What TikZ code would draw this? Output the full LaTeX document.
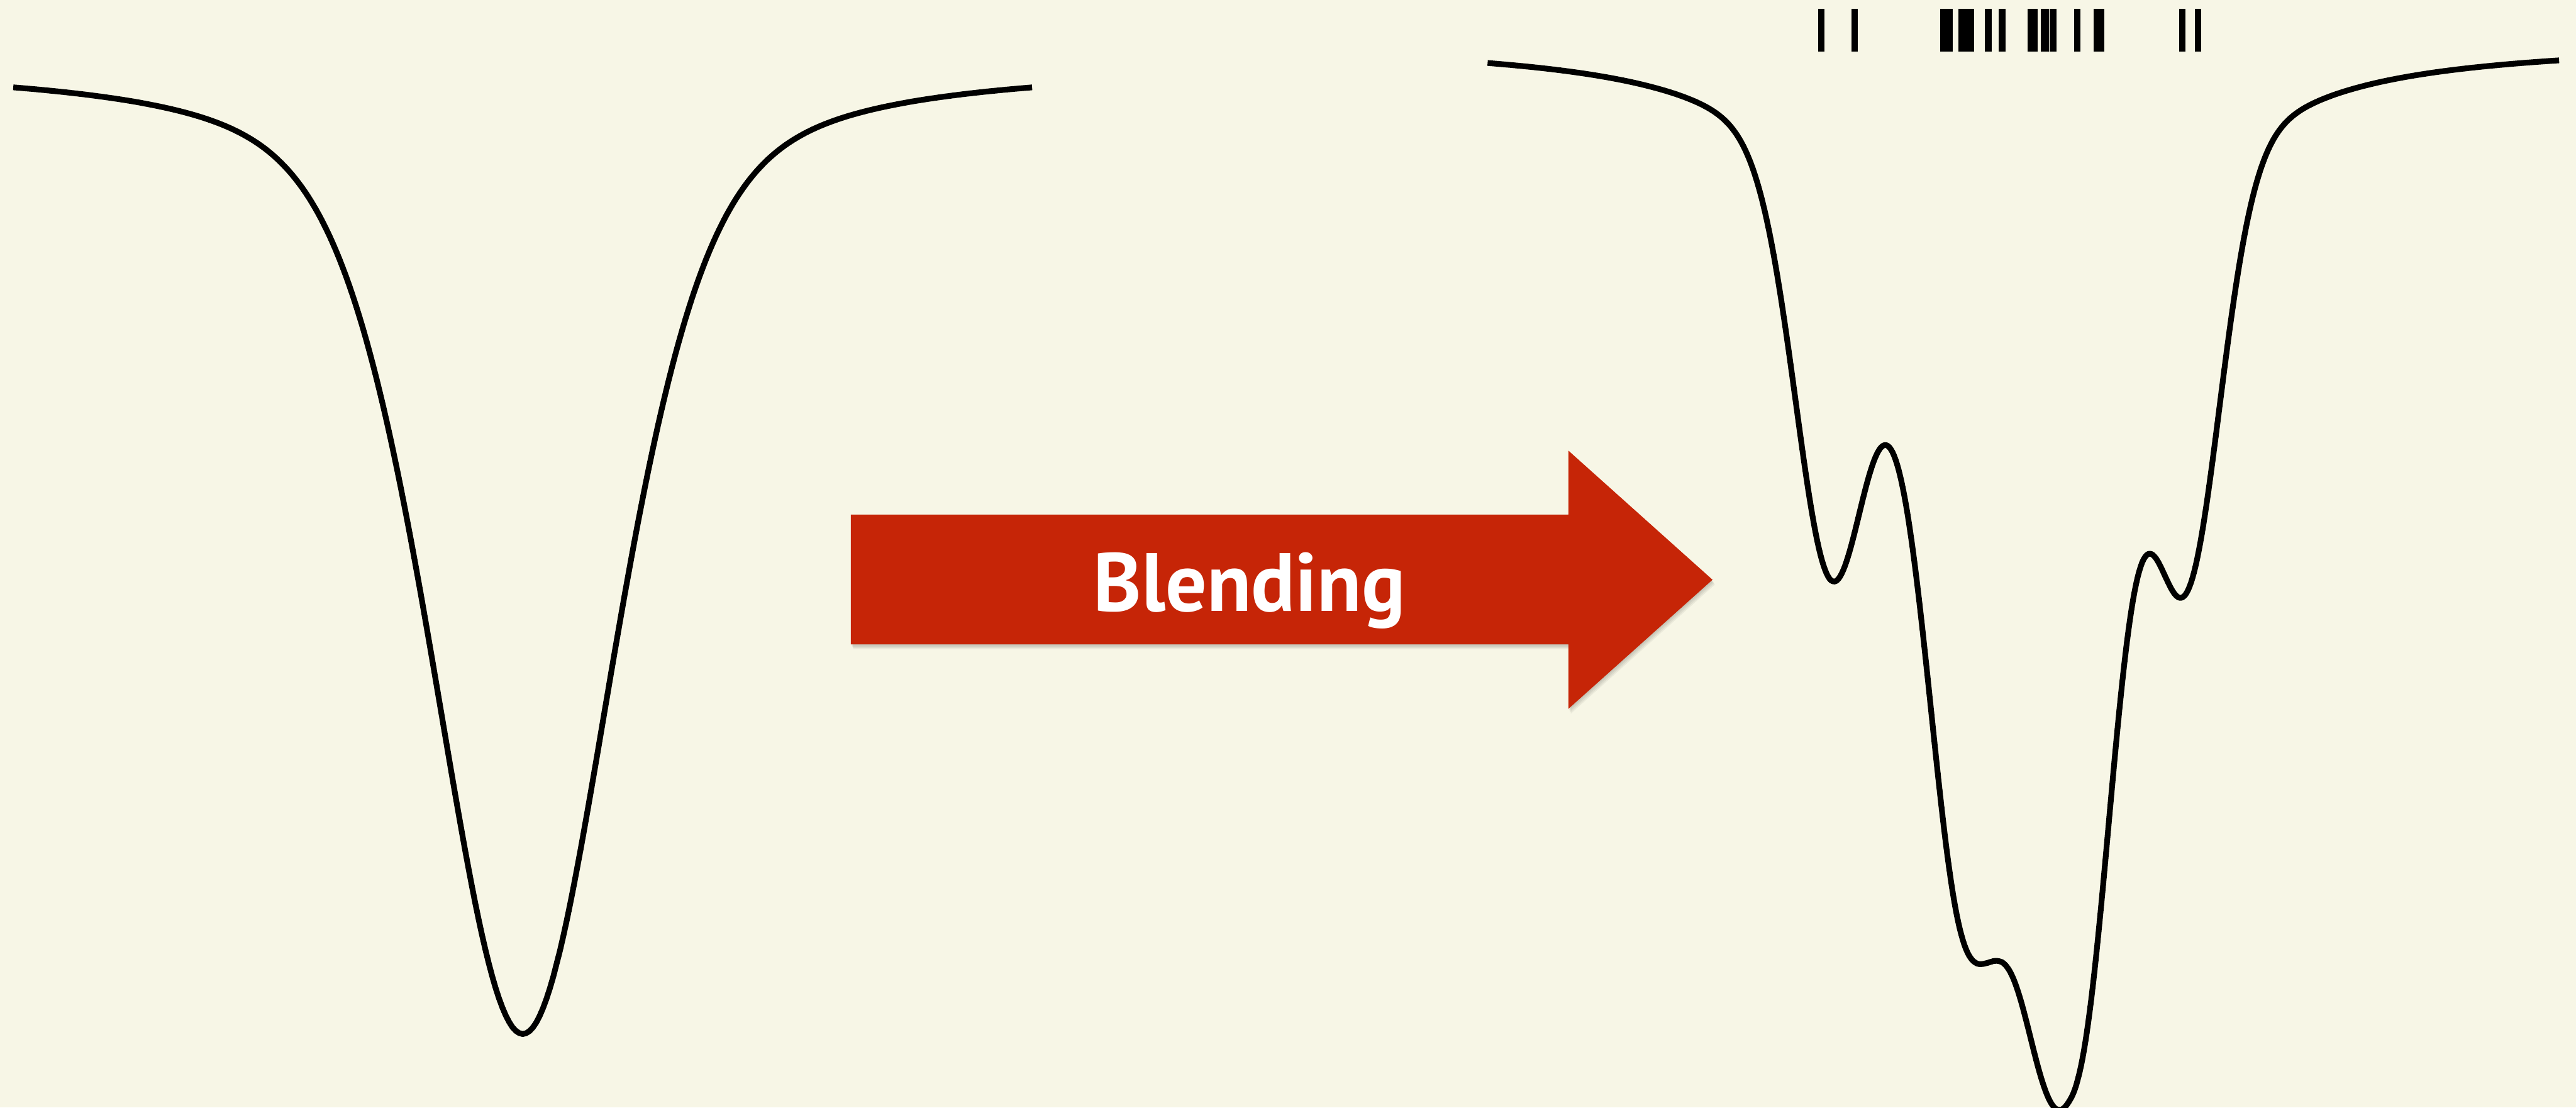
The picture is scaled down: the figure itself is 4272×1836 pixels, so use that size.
\documentclass[tikz,border=0pt]{standalone}
\usepackage{fontspec}
\usepackage{graphicx}
\newfontfamily\labelfont{PT Sans}
\definecolor{paper}{HTML}{F7F6E6}
\definecolor{arrowred}{HTML}{C62507}

\begin{document}
\begin{tikzpicture}[x=0.01cm, y=-0.01cm,
  profile/.style={line width=0.095cm, black, line join=round},
  linemark/.style={fill=black},
  arrowbody/.pic={\path[pic actions] (1411,853) -- (2601,853) -- (2601,747) -- (2840,961)
                    -- (2601,1175) -- (2601,1068) -- (1411,1068) -- cycle;},
  % absorption components; argument in units of 100
  declare function={
    voigtish(\u)=0.55*exp(-min(30,0.5*\u*\u))+0.45/(1+0.601*\u*\u);
    wingdepth(\q)=320/(1+(\q-33.30)*(\q-33.30)/6.25);
    dipA(\q)=690*(0.8*exp(-min(30,(\q-30.35)*(\q-30.35)/0.7))+0.2/(1+(\q-30.35)*(\q-30.35)/0.81));
    coreL(\q)=1045*voigtish((\q-32.50)/0.64);
    shoulder(\q)=42*exp(-min(30,(\q-33.02)*(\q-33.02)/0.16));
    coreR(\q)=1350*exp(-min(30,((abs(\q-34.32)+0.0001)/(\q<34.32 ? 1.18 : 0.995))^2.25));
    dipB(\q)=740*(0.8*exp(-min(30,(\q-36.25)*(\q-36.25)/0.64))+0.2/(1+(\q-36.25)*(\q-36.25)));
    blend(\q)=70+wingdepth(\q)+dipA(\q)+coreL(\q)+shoulder(\q)+coreR(\q)+dipB(\q);
  },
]
% page
\fill[paper] (0,0) rectangle (4272,1836);
\useasboundingbox (0,0) rectangle (4272,1836);

% single line profile: Gaussian core plus Lorentzian wings
\draw[profile] plot[domain=-8.45:8.45, samples=301, variable=\u]
  ({867+100*\u}, {109+1605*(0.55*exp(-(\u*\u)/4.5)+0.45/(1+(\u*\u)/3.7249))});

% blending arrow with soft shadow
\foreach \s in {2,4,6,8}
  \pic[fill=black, opacity=0.05] at (\s*0.5,\s) {arrowbody};
\pic[fill=arrowred] at (0,0) {arrowbody};
\node[anchor=base, inner sep=0pt, text=white] (blendlabel) at (2072,1013)
  {\resizebox{5.17cm}{\height}{\labelfont\bfseries\fontsize{39}{40}\selectfont Blending}};

% blended profile: sum of the component depths
\draw[profile] plot[domain=24.67:42.45, samples=700, variable=\t] ({100*\t}, {blend(\t)});

% line positions
\foreach \a/\b in {3015/3025.5, 3070/3081, 3217.5/3238.5, 3247.5/3273.5,
                   3292/3303, 3315/3325.5, 3363/3379, 3384.5/3398, 3399.5/3410.5,
                   3439.5/3450, 3471.5/3490, 3613.5/3624, 3640/3650.5}
  \fill[linemark] (\a,15) rectangle (\b,86);
\end{tikzpicture}
\end{document}
